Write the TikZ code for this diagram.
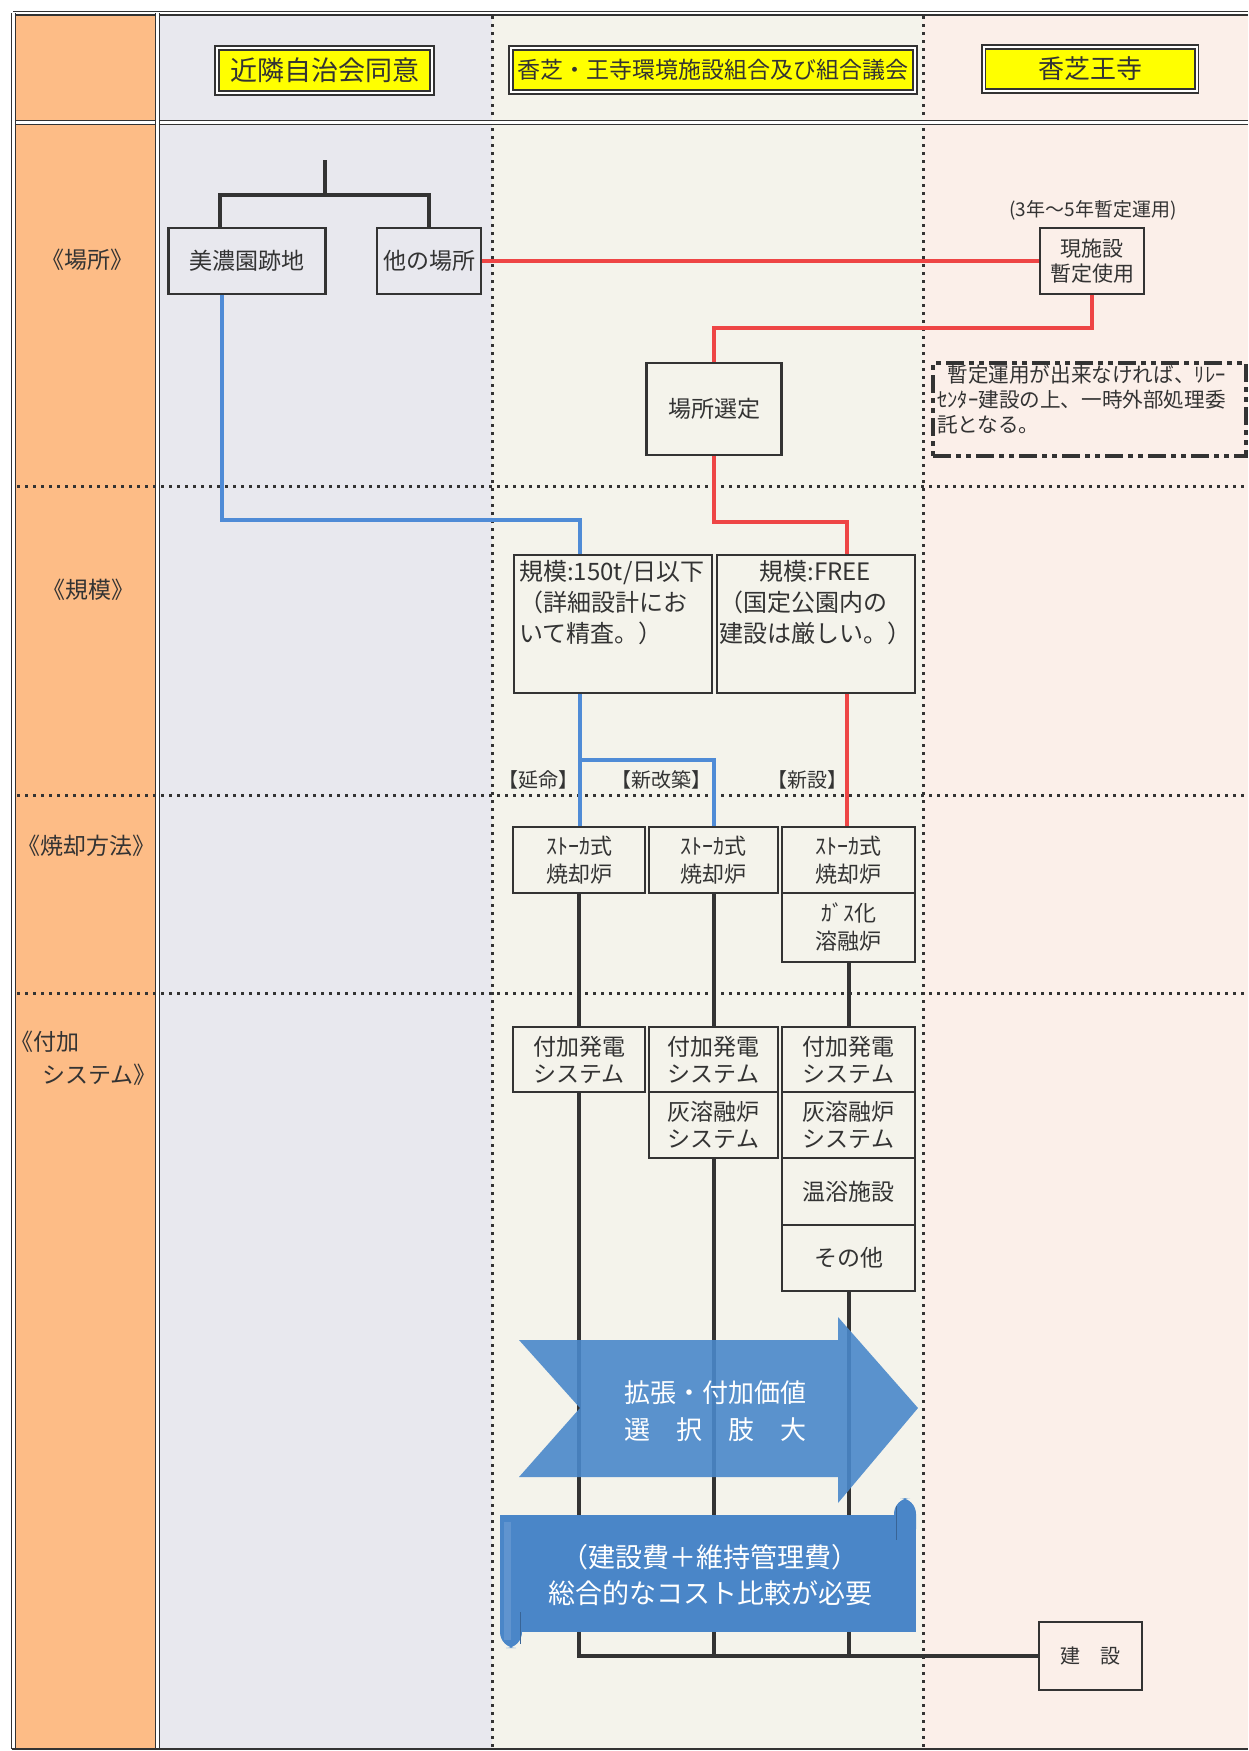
\documentclass[tikz,border=0pt]{standalone}
\usepackage{fontspec}
\setmainfont{Noto Sans CJK JP}
\newcommand{\setfs}[2]{\fontsize{#1}{#2}\selectfont}
\definecolor{dk}{HTML}{333333}
\definecolor{orng}{HTML}{FDBC86}
\definecolor{bgA}{HTML}{E8E8EE}
\definecolor{bgB}{HTML}{F4F3EB}
\definecolor{bgC}{HTML}{FBEFE9}
\definecolor{lred}{HTML}{EE4545}
\definecolor{lblue}{HTML}{4F8BD6}
\definecolor{arrblue}{HTML}{4A88CA}
\definecolor{banblue}{HTML}{4A86C8}
\definecolor{hyel}{HTML}{FFFF00}
\begin{document}
\begin{tikzpicture}[x=0.5pt,y=-0.5pt,
  box/.style={draw=dk, line width=1.3pt, inner sep=0pt, align=center, text=dk},
  sz/.style 2 args={minimum width=#1, minimum height=#2},
  fnt/.style 2 args={font=\setfs{#1}{#2}},
  hdr/.style={draw=dk, line width=0.8pt, double=white, double distance=1pt, fill=hyel, inner sep=0pt, text=dk},
  dbl/.style={draw=dk, line width=0.7pt, double=white, double distance=1.1pt},
  dotln/.style={draw=dk, line width=1.5pt, dash pattern=on 1.5pt off 2.5pt},
  rd/.style={draw=lred, line width=2pt},
  bl/.style={draw=lblue, line width=2pt},
  blk/.style={draw=dk, line width=2pt},
  lbl/.style={inner sep=0pt, text=dk, align=left},
  notebox/.style={draw=dk, line width=2.2pt, dash pattern=on 9pt off 2.5pt on 2.5pt off 2.5pt on 2.5pt off 2.5pt, inner sep=0pt}
]
\useasboundingbox (0,0) rectangle (1248,1751);
\fill[white] (0,0) rectangle (1248,1751);
\fill[orng] (14,13) rectangle (157.5,1749);
\fill[bgA] (157.5,13) rectangle (492,1749);
\fill[bgB] (492,13) rectangle (923,1749);
\fill[bgC] (923,13) rectangle (1248,1749);

% dotted dividers
\foreach \yy in {486,795,993} \draw[dotln] (17,\yy) -- (1248,\yy);
\foreach \xx in {492,923} \draw[dotln] (\xx,16) -- (\xx,1748);

% frame
\draw[dbl] (13,13) -- (1248,13);
\draw[dbl] (13,122.5) -- (1248,122.5);
\draw[dbl] (13.5,13) -- (13.5,1749);
\draw[dbl] (157.5,13) -- (157.5,1749);
\draw[dk, line width=1.2pt] (12,1749) -- (1248,1749);

% headers
\node[hdr, sz={107.5pt}{22.5pt}, fnt={13.5pt}{16pt}] (h1) at (324.5,70.5) {近隣自治会同意};
\node[hdr, sz={202pt}{22pt}, fnt={11.5pt}{14pt}] (h2) at (713,70) {香芝・王寺環境施設組合及び組合議会};
\node[hdr, sz={106.5pt}{22pt}, fnt={13pt}{15pt}] (h3) at (1090,69) {香芝王寺};

% row labels
\node[lbl, fnt={11.5pt}{14pt}] (r1) at (87,260) {《場所》};
\node[lbl, fnt={11.5pt}{14pt}] (r2) at (88,590) {《規模》};
\node[lbl, fnt={11.5pt}{14pt}] (r3) at (87,846) {《焼却方法》};
\node[lbl, anchor=west, fnt={11.5pt}{16.5pt}] (r4) at (10,1058) {《付加\\\hspace*{1.4em}システム》};

% row 1
\node[box, sz={78.5pt}{33pt}, fnt={11.5pt}{14pt}] (mino) at (247,261) {美濃園跡地};
\node[box, sz={52pt}{33pt}, fnt={11.5pt}{14pt}] (other) at (429,261) {他の場所};
\coordinate (t0) at (325,160);
\coordinate (tj) at (325,195);
\coordinate (tl) at (220,195);
\coordinate (tr) at (429,195);
\draw[blk] (t0) -- (tj);
\draw[blk] (tl |- mino.north) -- (tl) -- (tr) -- (other.north);

\node[box, sz={52pt}{33pt}, fnt={10.5pt}{12.5pt}] (gen) at (1092,261) {現施設\\暫定使用};
\node[lbl, fnt={9.5pt}{11pt}] (gennote) at (1093,210) {(3年～5年暫定運用)};
\draw[rd] (other.east) -- (gen.west);
\node[box, sz={67.5pt}{46pt}, fnt={11.5pt}{14pt}] (basho) at (714,409) {場所選定};
\coordinate (rj1) at (714,328);
\draw[rd] (gen.south) |- (rj1) -- (basho.north);

\node[notebox, sz={156.5pt}{46.5pt}] (note) at (1089.5,409.5) {};
\node[lbl, anchor=north west, fnt={10.3pt}{12.5pt}] (notetxt) at ([shift={(6,4)}]note.north west) {\hspace*{0.5em}暫定運用が出来なければ、ﾘﾚｰ\\ｾﾝﾀｰ建設の上、一時外部処理委\\託となる。};

% row 2
\node[box, sz={99pt}{69pt}] (s1) at (613,624) {};
\node[box, sz={99pt}{69pt}] (s2) at (816,624) {};
\node[lbl, anchor=north west, fnt={12pt}{15.5pt}] (s1t) at ([shift={(6,6)}]s1.north west) {規模:150t/日以下\\（詳細設計にお\\いて精査。）};
\node[lbl, anchor=north west, fnt={12pt}{15.5pt}] (s2t) at ([shift={(3,6)}]s2.north west) {\makebox[96pt][c]{規模:FREE}\\（国定公園内の\\建設は厳しい。）};

\coordinate (bj) at (580,520);
\draw[bl] ([xshift=-12.5pt]mino.south) |- (bj) -- (bj |- s1.north);
\coordinate (rj2) at (847,522);
\draw[rd] (basho.south) |- (rj2) -- (rj2 |- s2.north);

% row 3
\node[box, sz={66pt}{33pt}, fnt={11pt}{14pt}] (k1) at (579,860) {ｽﾄｰｶ式\\焼却炉};
\node[box, sz={64.5pt}{33pt}, fnt={11pt}{14pt}] (k2) at (713.5,860) {ｽﾄｰｶ式\\焼却炉};
\node[box, sz={66.5pt}{33pt}, fnt={11pt}{14pt}] (k3) at (848.5,860) {ｽﾄｰｶ式\\焼却炉};
\node[box, sz={66.5pt}{34.5pt}, fnt={11pt}{14pt}] (gas) at (848.5,927.5) {ｶﾞｽ化\\溶融炉};

\coordinate (bj2) at (580,760);
\draw[bl] (bj |- s1.south) -- (bj |- k1.north);
\draw[bl] (bj2) -| (k2.north);
\draw[rd] (rj2 |- s2.south) -- (rj2 |- k3.north);

\node[lbl, fnt={10pt}{12pt}] (lb1) at (538,780) {【延命】};
\node[lbl, fnt={10pt}{12pt}] (lb2) at (661,780) {【新改築】};
\node[lbl, fnt={10pt}{12pt}] (lb3) at (807,780) {【新設】};

% row 4
\node[box, sz={66pt}{32.5pt}, fnt={11.5pt}{13.5pt}] (f1) at (579,1059.5) {付加発電\\システム};
\node[box, sz={64.5pt}{32.5pt}, fnt={11.5pt}{13.5pt}] (f2) at (713.5,1059.5) {付加発電\\システム};
\node[box, sz={66.5pt}{32.5pt}, fnt={11.5pt}{13.5pt}] (f3) at (848.5,1059.5) {付加発電\\システム};
\node[box, sz={64.5pt}{33pt}, fnt={11.5pt}{13.5pt}] (a2) at (713.5,1125) {灰溶融炉\\システム};
\node[box, sz={66.5pt}{33pt}, fnt={11.5pt}{13.5pt}] (a3) at (848.5,1125) {灰溶融炉\\システム};
\node[box, sz={66.5pt}{33.5pt}, fnt={11.5pt}{13.5pt}] (o3) at (848.5,1191.5) {温浴施設};
\node[box, sz={66.5pt}{33pt}, fnt={11.5pt}{13.5pt}] (e3) at (848.5,1258) {その他};

\draw[blk] (k1.south) -- (k1.south |- f1.north);
\draw[blk] (k2.south) -- (k2.south |- f2.north);
\draw[blk] (gas.south) -- (gas.south |- f3.north);

% bottom
\node[box, sz={51.5pt}{34pt}, fnt={10pt}{12pt}] (ken) at (1090.5,1656) {建　設};
\draw[blk] (f1.south) |- (ken.west);
\draw[blk] (a2.south) -- (a2.south |- ken.west);
\draw[blk] (e3.south) -- (e3.south |- ken.west);

% arrow
\fill[arrblue, fill opacity=0.9] (519,1340) -- (838,1340) -- (838,1317) -- (918,1408) -- (838,1503) -- (838,1477) -- (519,1477) -- (580,1408) -- cycle;
\node[text=white, align=center, inner sep=0pt, fnt={13pt}{18.5pt}] (arrtxt) at (715,1411) {拡張・付加価値\\選　択　肢　大};

% banner
\fill[banblue] (500,1515) rectangle (916,1632);
\fill[banblue, rounded corners=8] (894,1545) rectangle (916,1498);
\draw[banblue!75!black, line width=0.5pt] (896,1506) -- (896,1540);
\fill[banblue, rounded corners=8] (500,1605) rectangle (522,1648);
\fill[banblue!88!white] (504,1522) rectangle (511,1640);
\draw[banblue!75!black, line width=0.5pt] (520,1612) -- (520,1644);
\node[text=white, align=center, inner sep=0pt, fnt={13.5pt}{18pt}] (bantxt) at (710,1575) {（建設費＋維持管理費）\\総合的なコスト比較が必要};
\end{tikzpicture}
\end{document}
